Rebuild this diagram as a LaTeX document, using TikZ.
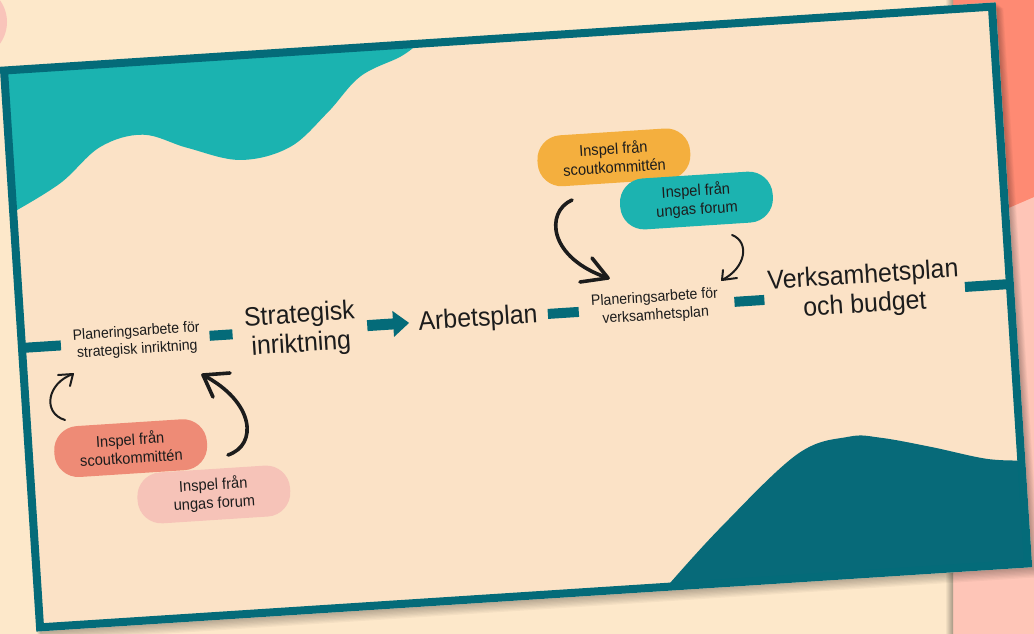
\documentclass[tikz,border=0pt]{standalone}
\usepackage{fontspec}
\setmainfont{Liberation Sans}[FakeStretch=0.94]
\usetikzlibrary{arrows.meta}
\definecolor{bg}{HTML}{FDE8CA}
\definecolor{cardc}{HTML}{FBE2C6}
\definecolor{border}{HTML}{046B79}
\definecolor{darkblob}{HTML}{076A79}
\definecolor{tealblob}{HTML}{1BB3B0}
\definecolor{orangeb}{HTML}{F4AF3E}
\definecolor{tealb}{HTML}{1CB3B0}
\definecolor{salmonb}{HTML}{EE8B76}
\definecolor{pinkb}{HTML}{F6C3B8}
\definecolor{panelpink}{HTML}{FEC5B7}
\definecolor{panelsalmon}{HTML}{FE8A73}
\definecolor{circpink}{HTML}{F9C4BA}
\definecolor{ink}{HTML}{1C1C1C}
\begin{document}
\begin{tikzpicture}[x=1pt,y=-1pt,
  smalltxt/.style={font=\fontsize{15}{18}\selectfont, align=center, text=ink, inner sep=0pt},
  bigtxt/.style={font=\fontsize{26.5}{29.5}\selectfont, align=center, text=ink, inner sep=0pt},
  bubble/.style={font=\fontsize{15.6}{18.5}\selectfont, align=center, text=ink, inner sep=0pt,
     rounded corners=24pt, minimum width=153pt, minimum height=51pt},
  barline/.style={draw=border, line width=10pt},
  thinarr/.style={draw=ink, line width=2pt, line cap=round, line join=round},
  thickarr/.style={draw=ink, line width=3.6pt, line cap=round, line join=round}]
\useasboundingbox (0,0) rectangle (1034,634);
% background
\fill[bg] (0,0) rectangle (1034,634);
\fill[circpink] (-30,22) circle[radius=37];
\fill[panelpink] (953,0) rectangle (1034,634);
\fill[panelsalmon] (953,0) -- (1034,0) -- (1034,197) -- (953,232) -- cycle;
\shade[left color=bg, right color=black!35!bg] (945,0) rectangle (953,634);
% card
\begin{scope}[rotate around={3.7:(516,317)}, transform shape]
  \foreach \k in {1,...,8}
    \fill[black, opacity=0.035] (17+0.5*\k,34+0.8*\k) rectangle (1015+0.9*\k,600+1.3*\k);
  \fill[cardc] (17,34) rectangle (1015,600);
  \begin{scope}
    \clip (21,38) rectangle (1011,596);
    \fill[tealblob] (15,30) -- (15,182) -- plot[smooth, tension=0.6] coordinates {(21,180) (70,154) (112,120.5) (155.5,111) (199,127) (251,142.5) (301,133) (341,101) (376,67) (417,50) (433,40)} -- (440,30) -- cycle;
    \fill[darkblob] (640,605) -- plot[smooth, tension=0.6] coordinates {(649,596) (707,540) (788,472) (840,458) (872,461) (922,473.5) (977,489) (1015,493)} -- (1020,605) -- cycle;
  \end{scope}
  \draw[border, line width=8pt] (21,38) rectangle (1011,596);
  % main line
  \coordinate (b1s) at (21,316);  \coordinate (b1e) at (60,316);
  \coordinate (b2s) at (209,316); \coordinate (b2e) at (232,316);
  \coordinate (ars) at (367,316); \coordinate (are) at (409,316);
  \coordinate (b3s) at (548,316); \coordinate (b3e) at (579,316);
  \coordinate (b4s) at (735,316); \coordinate (b4e) at (765,316);
  \coordinate (b5s) at (966,316); \coordinate (b5e) at (1011,316);
  \draw[barline] (b1s) -- (b1e);
  \draw[barline] (b2s) -- (b2e);
  \draw[barline] (b3s) -- (b3e);
  \draw[barline] (b4s) -- (b4e);
  \draw[barline] (b5s) -- (b5e);
  \draw[draw=border, line width=11pt, -{Triangle[length=16pt,width=25pt]}] (ars) -- (are);
  % texts
  \node[smalltxt] (planL) at (136,316.5) {Planeringsarbete för\\strategisk inriktning};
  \node[bigtxt] (strat) at (300,316.5) {Strategisk\\inriktning};
  \node[bigtxt] (arbets) at (478,317) {Arbetsplan};
  \node[smalltxt] (planV) at (655.5,316) {Planeringsarbete för\\verksamhetsplan};
  \node[bigtxt] (verks) at (865,313.5) {Verksamhetsplan\\och budget};
  % bubbles
  \node[bubble, fill=orangeb] (scoutT) at (624,164) {Inspel från\\scoutkommittén};
  \node[bubble, fill=tealb] (ungaT) at (703.6,212.4) {Inspel från\\ungas forum};
  \node[bubble, fill=salmonb] (scoutB) at (123,423) {Inspel från\\scoutkommittén};
  \node[bubble, fill=pinkb] (ungaB) at (203,474.6) {Inspel från\\ungas forum};
\end{scope}
% hand-drawn arrows (image coordinates)
\coordinate (a1s) at (65,420);  \coordinate (a1t) at (73,374);
\coordinate (a1p) at (58,375);  \coordinate (a1q) at (70,386);
\draw[thinarr] (a1s) .. controls (42,413) and (47,383) .. (a1t);
\draw[thinarr] (a1p) -- (a1t) -- (a1q);
\coordinate (a2s) at (228,455); \coordinate (a2t) at (203,375);
\coordinate (a2p) at (230,373); \coordinate (a2q) at (213,397);
\draw[thickarr] (a2s) .. controls (258,445) and (255,402) .. (a2t);
\draw[thickarr] (a2p) -- (a2t) -- (a2q);
\coordinate (a3s) at (572,200); \coordinate (a3t) at (608,278);
\coordinate (a3p) at (592,258); \coordinate (a3q) at (580,282);
\draw[thickarr] (a3s) .. controls (545,212) and (548,258) .. (a3t);
\draw[thickarr] (a3p) -- (a3t) -- (a3q);
\coordinate (a4s) at (732,235); \coordinate (a4t) at (722,280);
\coordinate (a4p) at (723,270); \coordinate (a4q) at (737,278);
\draw[thinarr] (a4s) .. controls (750,242) and (746,268) .. (a4t);
\draw[thinarr] (a4p) -- (a4t) -- (a4q);
\end{tikzpicture}
\end{document}
